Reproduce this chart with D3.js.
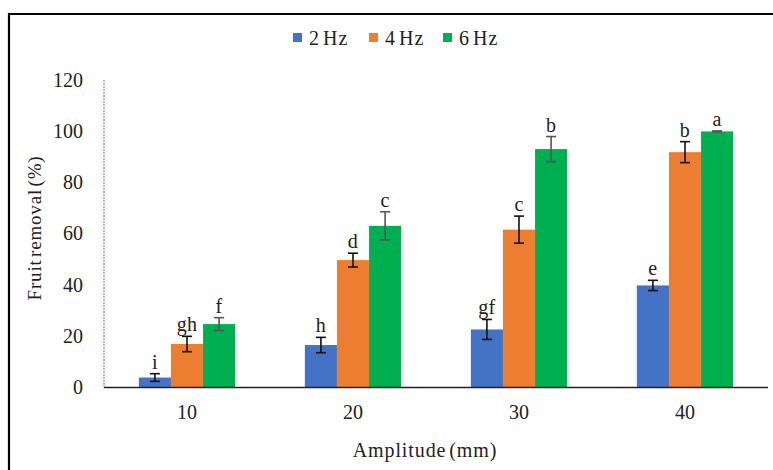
<!DOCTYPE html>
<html><head><meta charset="utf-8">
<script src="https://cdn.jsdelivr.net/npm/d3@7"></script>
<style>body{margin:0;background:#fff}svg{display:block}text{font-family:"Liberation Serif","DejaVu Serif",serif;fill:#222}</style>
</head><body><svg id="c" width="773" height="470"></svg>
<script>
const categories = ["10","20","30","40"];
const seriesNames = ["2 Hz","4 Hz","6 Hz"];
const colors = ["#4472c4","#ed7d31","#00b050"];
const values2 = [3.7, 16.4, 22.5, 39.7];
const values4 = [16.8, 49.6, 61.5, 91.8];
const values6 = [24.6, 63.0, 93.0, 99.9];
const err2 = [1.5, 3.0, 3.9, 2.0];
const err4 = [3.0, 2.7, 5.3, 4.1];
const err6 = [2.5, 5.5, 4.9, 0.2];
const letters2 = ["i","h","gf","e"];
const letters4 = ["gh","d","c","b"];
const letters6 = ["f","c","b","a"];
const yTicks = [0,20,40,60,80,100,120];

const series = [
  {name: seriesNames[0], vals: values2, errs: err2, lets: letters2, color: colors[0]},
  {name: seriesNames[1], vals: values4, errs: err4, lets: letters4, color: colors[1]},
  {name: seriesNames[2], vals: values6, errs: err6, lets: letters6, color: colors[2]}
];

const svg = d3.select("#c");
// outer frame
svg.append("path").attr("d","M9,475 L9,14 L780,14").attr("fill","none").attr("stroke","#000").attr("stroke-width",2.2);

const x0 = d3.scaleBand().domain(categories).range([104,768]).paddingInner(0.42).paddingOuter(0.21);
const x1 = d3.scaleBand().domain(seriesNames).range([0,x0.bandwidth()]);
const y = d3.scaleLinear().domain([0,120]).range([387,80]);

// y axis dashed line
svg.append("line").attr("x1",104).attr("x2",104).attr("y1",y(120)).attr("y2",y(0))
  .attr("stroke","#777").attr("stroke-width",1).attr("stroke-dasharray","2,1");

const yAxis = d3.axisLeft(y).tickValues(yTicks).tickSize(0).tickPadding(21);
const gy = svg.append("g").attr("transform","translate(104,0)").call(yAxis);
gy.select(".domain").remove();
gy.selectAll("text").style("font-size","20px").style("font-family","Liberation Serif").attr("fill","#222");

// bars
const groups = svg.append("g").selectAll("g").data(series).join("g");
groups.each(function(s){
  const g = d3.select(this);
  categories.forEach((c,i)=>{
    const bx = x0(c)+x1(s.name);
    g.append("rect").attr("x",bx).attr("y",y(s.vals[i])).attr("width",x1.bandwidth())
      .attr("height",y(0)-y(s.vals[i])).attr("fill",s.color);
    const cx = bx + x1.bandwidth()/2;
    const top = y(s.vals[i]+s.errs[i]), bot = y(s.vals[i]-s.errs[i]);
    const ec = s.name==="6 Hz" ? "#555" : "#111";
    g.append("line").attr("x1",cx).attr("x2",cx).attr("y1",top).attr("y2",bot).attr("stroke",ec).attr("stroke-width",1.6);
    g.append("line").attr("x1",cx-5).attr("x2",cx+5).attr("y1",top).attr("y2",top).attr("stroke",ec).attr("stroke-width",1.6);
    g.append("line").attr("x1",cx-5).attr("x2",cx+5).attr("y1",bot).attr("y2",bot).attr("stroke",ec).attr("stroke-width",1.6);
    g.append("text").attr("x",cx).attr("y",top-5).attr("text-anchor","middle")
      .style("font-size","20px").style("letter-spacing","0.3px").text(s.lets[i]);
  });
});

// x axis
svg.append("line").attr("x1",104).attr("x2",768).attr("y1",y(0)+0.5).attr("y2",y(0)+0.5).attr("stroke","#222").attr("stroke-width",1.5);
const xAxis = d3.axisBottom(x0).tickSize(0).tickPadding(18);
const gx = svg.append("g").attr("transform",`translate(0,${y(0)})`).call(xAxis);
gx.select(".domain").remove();
gx.selectAll("text").style("font-size","20px").style("font-family","Liberation Serif").attr("fill","#222");

// axis titles
svg.append("text").attr("x",425).attr("y",457).attr("text-anchor","middle").style("font-size","20px").style("letter-spacing","0.9px").style("word-spacing","-3px").text("Amplitude (mm)");
svg.append("text").attr("transform","translate(41,228) rotate(-90)").attr("text-anchor","middle").style("font-size","19px").style("letter-spacing","0.8px").style("word-spacing","-3px").text("Fruit removal (%)");

// legend
const legX = [293, 369, 443];
series.forEach((s,i)=>{
  svg.append("rect").attr("x",legX[i]).attr("y",33).attr("width",9).attr("height",9).attr("fill",s.color);
  svg.append("text").attr("x",legX[i]+16).attr("y",45).style("font-size","20px").style("letter-spacing","1px").style("word-spacing","-3px").text(s.name);
});
</script></body></html>
